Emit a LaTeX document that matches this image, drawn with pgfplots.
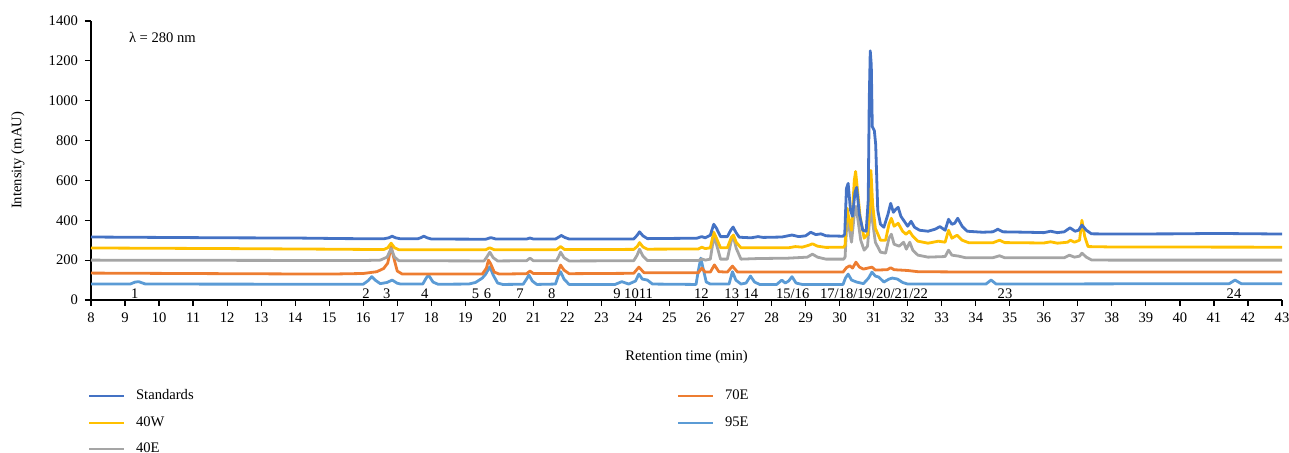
\documentclass[border=0pt]{standalone}
\usepackage{fontspec}
\setmainfont{Liberation Serif}
\usepackage{pgfplots}
\pgfplotsset{compat=1.18}
\newcommand\fs{\fontsize{7.3}{8.8}\selectfont}
\definecolor{cStd}{HTML}{4472C4}
\definecolor{cW}{HTML}{FFC000}
\definecolor{cE}{HTML}{A5A5A5}
\definecolor{cSE}{HTML}{ED7D31}
\definecolor{cNE}{HTML}{5B9BD5}
\tikzset{pk/.style={anchor=base, font=\fs, inner sep=0pt}}
\begin{document}
\begin{tikzpicture}
\begin{axis}[
  at={(45.5pt,76.5pt)}, anchor=south west,
  scale only axis, width=595.5pt, height=139.5pt,
  xmin=8, xmax=43, ymin=0, ymax=1400,
  axis x line*=bottom, axis y line*=left,
  axis line style={-, black, line width=0.6pt},
  xtick={8,...,43}, ytick={0,200,...,1400},
  tick align=outside, major tick length=3pt,
  tick style={black, line width=0.6pt},
  /pgf/number format/assume math mode=true,
  scaled ticks=false,
  yticklabel style={/pgf/number format/1000 sep=},
  tick label style={font=\fs},
  label style={font=\fs},
  xlabel={Retention time (min)},
  ylabel={Intensity (mAU)},
  xlabel style={at={(axis description cs:0.5,-0.204)}, anchor=center},
  ylabel style={at={(axis description cs:-0.0613,0.5)}, anchor=center},
  clip=false,
  legend columns=2,
  legend cell align=left,
  legend image code/.code={\draw[#1] (0pt,0pt) -- (17.5pt,0pt);},
  legend style={font=\fs, draw=none, fill=none, at={(axis description cs:-0.0078,-0.29)}, anchor=north west, row sep=3pt},
  every axis plot/.append style={line width=1.4pt, line join=round},
]
% 95E
\addplot[cNE, forget plot] coordinates {
(8,80) (9.15,80) (9.3,90) (9.4,92) (9.6,80) (16.0,79) (16.15,98) (16.25,117) (16.35,100) (16.5,82) (16.7,88) (16.85,100) (17.0,84) (17.1,80) (17.75,80) (17.85,110) (17.92,125) (18.05,90) (18.2,79) (19.1,80) (19.3,88) (19.5,110) (19.6,130) (19.72,167) (19.82,125) (19.95,85) (20.1,78) (20.7,79) (20.8,105) (20.87,125) (20.97,95) (21.1,78) (21.65,80) (21.73,120) (21.8,142) (21.9,105) (22.05,78) (23.4,78) (23.6,92) (23.8,80) (24.0,95) (24.1,130) (24.2,105) (24.35,100) (24.5,80) (25.78,78) (25.85,150) (25.92,210) (26.0,150) (26.08,90) (26.2,80) (26.75,80) (26.85,142) (26.95,100) (27.1,80) (27.25,85) (27.38,120) (27.5,90) (27.65,78) (28.15,78) (28.3,100) (28.4,85) (28.5,95) (28.6,117) (28.72,85) (28.9,78) (30.1,78) (30.17,110) (30.25,130) (30.35,100) (30.5,90) (30.7,82) (30.85,110) (30.95,140) (31.05,120) (31.15,115) (31.3,90) (31.45,105) (31.55,110) (31.7,105) (31.85,88) (32.0,80) (34.3,80) (34.45,100) (34.6,80) (41.45,82) (41.62,100) (41.8,82) (43,82)
};
% 70E
\addplot[cSE, forget plot] coordinates {
(8,135) (12,132) (15,130) (16.0,133) (16.4,142) (16.6,158) (16.72,185) (16.82,268) (16.9,210) (17.0,145) (17.15,130) (19.5,130) (19.62,160) (19.68,200) (19.75,180) (19.85,140) (20.0,130) (20.8,132) (20.9,145) (21.0,133) (21.7,133) (21.8,175) (21.9,150) (22.05,132) (23.95,134) (24.1,165) (24.25,137) (25.85,137) (25.95,160) (26.05,140) (26.2,140) (26.32,176) (26.45,142) (26.7,140) (26.85,170) (27.0,140) (28,140) (30.1,140) (30.2,162) (30.3,172) (30.38,160) (30.48,190) (30.58,165) (30.7,155) (30.95,165) (31.05,150) (31.4,152) (31.5,162) (31.6,152) (32.0,148) (32.3,142) (34,140) (37,140) (43,140)
};
% 40E
\addplot[cE, forget plot] coordinates {
(8,200) (12,199) (16.0,198) (16.5,200) (16.7,215) (16.82,258) (16.92,215) (17.05,197) (19.55,196) (19.63,215) (19.72,240) (19.82,212) (19.95,196) (20.8,197) (20.9,210) (21.0,197) (21.68,197) (21.75,220) (21.8,240) (21.9,212) (22.05,196) (23.95,197) (24.05,225) (24.12,255) (24.22,220) (24.35,198) (25.85,198) (25.95,206) (26.05,200) (26.2,205) (26.3,315) (26.38,280) (26.5,205) (26.7,205) (26.82,300) (26.88,316) (26.96,260) (27.1,205) (27.6,208) (28.5,210) (29.05,215) (29.2,230) (29.35,215) (29.6,205) (30.12,205) (30.16,215) (30.22,420) (30.28,360) (30.35,290) (30.43,430) (30.48,470) (30.54,400) (30.62,300) (30.72,250) (30.82,270) (30.88,400) (30.92,560) (30.97,390) (31.05,290) (31.2,240) (31.35,235) (31.45,310) (31.52,330) (31.6,280) (31.75,270) (31.88,290) (31.96,255) (32.06,290) (32.15,250) (32.3,225) (32.6,215) (33.1,218) (33.2,250) (33.3,225) (33.5,220) (33.7,212) (34.5,212) (34.7,222) (34.85,212) (36.6,212) (36.75,225) (36.9,215) (37.05,220) (37.12,235) (37.25,215) (37.4,201) (38,200) (43,200)
};
% 40W
\addplot[cW, forget plot] coordinates {
(8,261) (12,258) (15,255) (16.6,253) (16.72,262) (16.82,285) (16.92,262) (17.05,252) (19.6,252) (19.72,262) (19.85,252) (21.68,252) (21.8,268) (21.92,253) (23.95,254) (24.06,270) (24.12,288) (24.22,266) (24.35,255) (25.85,256) (25.95,265) (26.05,258) (26.2,262) (26.3,340) (26.38,310) (26.5,262) (26.7,262) (26.82,315) (26.88,326) (26.96,290) (27.1,262) (27.6,262) (28.5,262) (28.7,268) (28.9,265) (29.1,275) (29.2,282) (29.35,270) (29.6,264) (30.12,265) (30.16,275) (30.22,460) (30.28,400) (30.35,350) (30.43,600) (30.47,645) (30.52,560) (30.6,420) (30.72,310) (30.82,330) (30.88,450) (30.92,650) (30.97,480) (31.05,360) (31.2,300) (31.35,300) (31.45,380) (31.52,410) (31.6,370) (31.72,385) (31.85,345) (31.95,330) (32.05,345) (32.15,320) (32.3,295) (32.6,285) (32.9,295) (33.1,290) (33.2,350) (33.3,310) (33.45,325) (33.6,300) (33.8,287) (34.5,287) (34.7,300) (34.85,288) (36.0,286) (36.2,292) (36.4,285) (36.7,290) (36.78,300) (36.9,290) (37.05,300) (37.12,400) (37.2,320) (37.3,268) (38,266) (43,265)
};
% Standards
\addplot[cStd, forget plot] coordinates {
(8,316) (10,314) (12,312) (14,311) (15.5,308) (16.6,307) (16.75,312) (16.85,320) (16.95,312) (17.1,307) (17.6,307) (17.7,313) (17.78,320) (17.88,312) (18.0,306) (19.6,305) (19.75,313) (19.9,306) (20.8,306) (20.9,311) (21.0,306) (21.65,306) (21.75,316) (21.82,324) (21.92,314) (22.05,306) (23.95,306) (24.05,325) (24.12,342) (24.22,322) (24.35,308) (25.8,310) (25.95,318) (26.05,312) (26.2,325) (26.3,380) (26.38,360) (26.5,318) (26.7,318) (26.8,350) (26.87,366) (26.95,340) (27.05,315) (27.4,312) (27.6,318) (27.75,314) (28.3,316) (28.6,326) (28.8,318) (29.0,322) (29.15,340) (29.3,328) (29.45,332) (29.6,322) (30.1,320) (30.15,330) (30.2,560) (30.25,585) (30.32,450) (30.38,420) (30.45,540) (30.5,565) (30.58,430) (30.68,350) (30.78,345) (30.84,500) (30.87,1000) (30.9,1250) (30.93,1180) (30.96,870) (31.02,850) (31.06,780) (31.12,450) (31.2,380) (31.3,365) (31.42,430) (31.5,485) (31.58,440) (31.65,455) (31.72,465) (31.8,420) (31.9,395) (32.0,370) (32.1,395) (32.2,365) (32.35,350) (32.6,345) (32.8,355) (32.95,368) (33.1,350) (33.2,405) (33.3,380) (33.38,385) (33.47,410) (33.6,370) (33.75,345) (34.2,340) (34.5,342) (34.65,355) (34.8,342) (35.5,340) (36.0,338) (36.2,345) (36.4,338) (36.6,342) (36.77,362) (36.92,345) (37.02,350) (37.12,376) (37.25,350) (37.4,332) (38,331) (40,332) (41,334) (43,331)
};
\addlegendimage{cStd, line width=1pt}
\addlegendentry{\hspace{3.5pt}\makebox[268.5pt][l]{Standards}}
\addlegendimage{cSE, line width=1pt}
\addlegendentry{\hspace{3.5pt}70E}
\addlegendimage{cW, line width=1pt}
\addlegendentry{\hspace{3.5pt}40W}
\addlegendimage{cNE, line width=1pt}
\addlegendentry{\hspace{3.5pt}95E}
\addlegendimage{cE, line width=1pt}
\addlegendentry{\hspace{3.5pt}40E}
\node[anchor=west, font=\fs] at (axis cs:8.91,1320) {λ = 280 nm};
\node[pk] at (axis cs:9.29,8) {1};
\node[pk] at (axis cs:16.08,8) {2};
\node[pk] at (axis cs:16.69,8) {3};
\node[pk] at (axis cs:17.81,8) {4};
\node[pk] at (axis cs:19.3,8) {5};
\node[pk] at (axis cs:19.65,8) {6};
\node[pk] at (axis cs:20.61,8) {7};
\node[pk] at (axis cs:21.54,8) {8};
\node[pk] at (axis cs:23.93,8) {9 1011};
\node[pk] at (axis cs:25.94,8) {12};
\node[pk] at (axis cs:26.83,8) {13};
\node[pk] at (axis cs:27.39,8) {14};
\node[pk] at (axis cs:28.62,8) {15/16};
\node[pk] at (axis cs:31.01,8) {17/18/19/20/21/22};
\node[pk] at (axis cs:34.86,8) {23};
\node[pk] at (axis cs:41.59,8) {24};
\end{axis}
\pgfresetboundingbox
\useasboundingbox (0,0) rectangle (644.5pt,226.5pt);
\end{tikzpicture}
\end{document}
